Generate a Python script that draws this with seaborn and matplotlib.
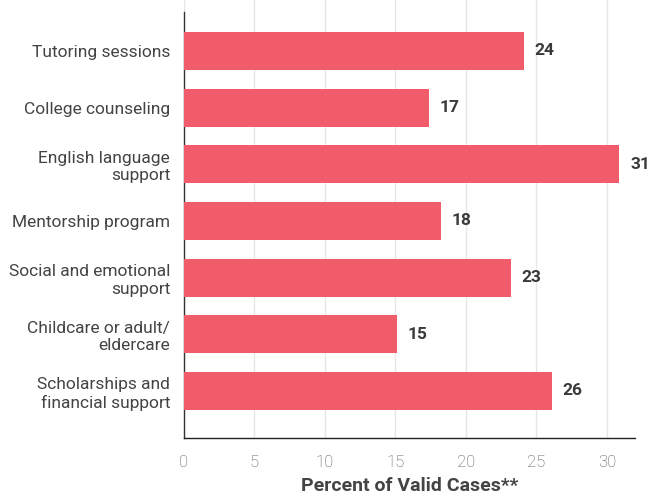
import matplotlib
matplotlib.use("Agg")
import matplotlib.pyplot as plt
import seaborn as sns
import pandas as pd

# Survey results: share of valid cases per support service
categories = [
    "Tutoring sessions",
    "College counseling",
    "English language\nsupport",
    "Mentorship program",
    "Social and emotional\nsupport",
    "Childcare or adult/\neldercare",
    "Scholarships and\nfinancial support",
]
percent = [24.1, 17.4, 30.9, 18.2, 23.2, 15.1, 26.1]
x_ticks = [0, 5, 10, 15, 20, 25, 30]

df = pd.DataFrame({"service": categories, "percent": percent})

sns.set_theme(style="white")
plt.rcParams["font.family"] = ["Roboto", "DejaVu Sans"]

fig = plt.figure(figsize=(6.5, 4.98), dpi=100)
ax = fig.add_axes([184 / 650, 60 / 498, (635 - 184) / 650, 438 / 498])

sns.barplot(data=df, x="percent", y="service", orient="h",
            color="#F15C6B", saturation=1, width=0.67, ax=ax, zorder=3,
            linewidth=0, edgecolor="none")

# Value labels at the end of each bar
for i, v in enumerate(percent):
    ax.text(v + 0.75, i, f"{v:.0f}", va="center", ha="left",
            fontsize=12.5, fontweight="bold", color="#3a3a3a")

ax.set_xlim(0, 32)
ax.set_ylim(6.83, -0.9)
ax.set_xticks(x_ticks)
ax.set_xticklabels([str(t) for t in x_ticks], fontsize=12,
                   fontweight="light", color="#555555")
ax.tick_params(axis="x", length=7, width=1, color="#333333", pad=5)
ax.tick_params(axis="y", length=0, pad=10, labelsize=12.5, labelcolor="#444444")

ax.xaxis.grid(True, color="#e6e6e6", linewidth=1, zorder=0)
ax.yaxis.grid(False)

for side in ["top", "right"]:
    ax.spines[side].set_visible(False)
ax.spines["left"].set_color("#333333")
ax.spines["left"].set_linewidth(1)
ax.spines["left"].set_bounds(6.83, -0.69)
ax.spines["bottom"].set_color("#222222")
ax.spines["bottom"].set_linewidth(1)

ax.set_ylabel("")
ax.set_xlabel("Percent of Valid Cases**", fontsize=14, fontweight="bold",
              color="#444444", labelpad=5)

fig.savefig("out.png", dpi=100)
